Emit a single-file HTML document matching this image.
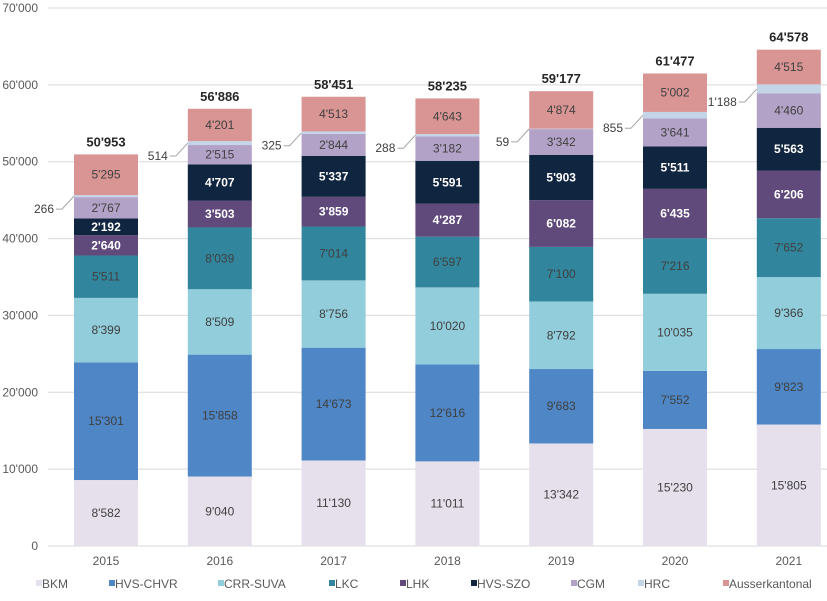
<!DOCTYPE html>
<html><head><meta charset="utf-8"><style>
body{margin:0;background:#fff;font-family:"Liberation Sans",sans-serif}
svg text{font-family:"Liberation Sans",sans-serif}
</style></head><body>
<svg id="chart" width="827" height="596" viewBox="0 0 827 596" xmlns="http://www.w3.org/2000/svg"></svg>
<script>
const years = ['2015','2016','2017','2018','2019','2020','2021'];
const seriesNames = ['BKM','HVS-CHVR','CRR-SUVA','LKC','LHK','HVS-SZO','CGM','HRC','Ausserkantonal'];
const BKM = [8582,9040,11130,11011,13342,15230,15805];
const HVS_CHVR = [15301,15858,14673,12616,9683,7552,9823];
const CRR_SUVA = [8399,8509,8756,10020,8792,10035,9366];
const LKC = [5511,8039,7014,6597,7100,7216,7652];
const LHK = [2640,3503,3859,4287,6082,6435,6206];
const HVS_SZO = [2192,4707,5337,5591,5903,5511,5563];
const CGM = [2767,2515,2844,3182,3342,3641,4460];
const HRC = [266,514,325,288,59,855,1188];
const Ausserkantonal = [5295,4201,4513,4643,4874,5002,4515];
const totals = [50953,56886,58451,58235,59177,61477,64578];
const yTicks = [0,10000,20000,30000,40000,50000,60000,70000];

const series = [BKM,HVS_CHVR,CRR_SUVA,LKC,LHK,HVS_SZO,CGM,HRC,Ausserkantonal];
const colors = ['#e6e0ec','#4f86c6','#92cddc','#31859c','#604a7b','#10253f','#b3a2c7','#c5d5e8','#d99594'];
const textCol = ['#404040','#404040','#404040','#404040','#fff','#fff','#404040','#404040','#404040'];
const bold = [false,false,false,false,true,true,false,false,false];
const svg = document.getElementById('chart');
const NS='http://www.w3.org/2000/svg';
const y0=546, yTop=8, yMax=70000;
const y = v => y0 - v/yMax*(y0-yTop);
const x = i => 106 + i*113.8;
const bw = 64;
const fmt = v => String(v).replace(/\B(?=(\d{3})+(?!\d))/g,"'");
function mk(tag, attrs, parent){const e=document.createElementNS(NS,tag);for(const k in attrs)e.setAttribute(k,attrs[k]);(parent||svg).appendChild(e);return e;}

yTicks.forEach(t=>{
  const g=mk('line',{x1:48,x2:827,y1:y(t),y2:y(t),stroke:'#d9d9d9','stroke-width':1});
  
  
  const tx=mk('text',{x:38,y:y(t)+4,'text-anchor':'end','font-size':12,fill:'#595959'});
  tx.textContent=fmt(t);
  
  
});

years.forEach((yr,i)=>{
  let acc=0;
  series.forEach((s,si)=>{
    const v=s[i];
    const r=mk('rect',{x:x(i)-bw/2,y:y(acc+v),width:bw,height:y(acc)-y(acc+v),fill:colors[si]});
    
    
    const mid=(y(acc)+y(acc+v))/2;
    if(si===7){
      const left=x(i)-bw/2;
      const lx=left-12, ly=mid+13;
      const ln=mk('polyline',{points:`${lx-6},${ly} ${lx},${ly} ${left},${mid}`,fill:'none',stroke:'#a6a6a6','stroke-width':1});
      
      
      const t=mk('text',{x:lx-8,y:ly+4,'text-anchor':'end','font-size':12,fill:'#404040'});
      t.textContent=fmt(v);
      
      
    } else {
      const t=mk('text',{x:x(i),y:mid+4,'text-anchor':'middle','font-size':12,fill:textCol[si],'font-weight':bold[si]?'bold':'normal'});
      t.textContent=fmt(v);
      
      
    }
    acc+=v;
  });
  const tt=mk('text',{x:x(i),y:y(totals[i])-8,'text-anchor':'middle','font-size':13,'font-weight':'bold',fill:'#262626'});
  tt.textContent=fmt(totals[i]);
  
  
  const xl=mk('text',{x:x(i),y:565,'text-anchor':'middle','font-size':12,fill:'#595959'});
  xl.textContent=yr;
  
  
});

const legX=[36,109,218,329,400,471,571,638,723];
seriesNames.forEach((n,i)=>{
  const r=mk('rect',{x:legX[i],y:580,width:6,height:6,fill:colors[i]});
  
  
  const t=mk('text',{x:legX[i]+6,y:588,'font-size':12,fill:'#595959'});
  t.textContent=n;
  
  
});
</script>
</body></html>
